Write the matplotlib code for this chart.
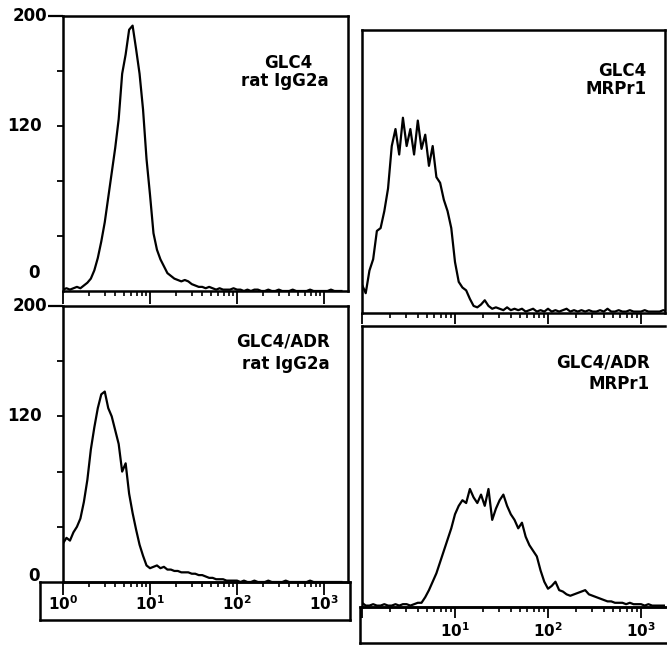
import matplotlib
matplotlib.use('Agg')
import matplotlib.pyplot as plt
import numpy as np
from matplotlib import ticker

W, H = 667, 646

# histogram channels: 25 channels per decade, starting at 10^0
STEP = 0.04

glc4_igg = [1, 2, 1, 2, 3, 2, 4, 6, 9, 15, 24, 36, 50, 68, 86, 104, 125, 158, 172, 190,
            193, 176, 158, 132, 96, 70, 42, 30, 23, 18, 13, 11, 9, 8, 7, 8, 7, 5, 4, 3,
            3, 2, 3, 2, 1, 2, 1, 1, 1, 2, 1, 1, 0, 1, 0, 1, 1, 0, 0, 1, 0, 0, 1, 0, 0,
            0, 1, 0, 0, 0, 0, 1, 0, 0, 0, 0, 0, 1, 0, 0, 0]
adr_igg = [28, 32, 30, 36, 40, 46, 58, 74, 96, 112, 126, 136, 138, 126, 120, 110, 100, 80,
           86, 64, 50, 38, 27, 19, 12, 10, 11, 12, 10, 11, 9, 9, 8, 8, 7, 7, 7, 6, 6, 5,
           5, 4, 3, 3, 2, 2, 2, 1, 1, 1, 1, 0, 1, 0, 0, 1, 0, 0, 0, 1, 0, 0, 0, 0, 1, 0,
           0, 0, 0, 0, 0, 1, 0, 0, 0, 0, 0, 0, 0, 0, 0]
glc4_mrp = [20, 14, 30, 38, 58, 60, 72, 88, 118, 130, 112, 138, 118, 130, 112, 136, 116,
            126, 104, 118, 96, 92, 80, 72, 60, 36, 22, 18, 16, 10, 5, 4, 6, 9, 5, 3, 4, 3,
            2, 4, 2, 3, 2, 3, 1, 2, 3, 1, 2, 1, 3, 1, 2, 1, 2, 3, 1, 2, 1, 2, 1, 2, 1, 1,
            2, 1, 3, 1, 1, 2, 1, 1, 2, 1, 1, 1, 2, 1, 1, 1, 1, 2, 1]
adr_mrp = [3, 1, 1, 2, 1, 1, 2, 1, 1, 2, 1, 2, 2, 1, 2, 3, 3, 7, 12, 18, 24, 32, 40, 48,
           56, 66, 72, 76, 74, 84, 78, 74, 80, 72, 84, 62, 70, 76, 80, 72, 66, 62, 56, 60,
           50, 44, 40, 36, 26, 18, 13, 15, 18, 12, 11, 9, 8, 9, 10, 11, 12, 9, 8, 7, 6, 5,
           4, 4, 3, 3, 3, 2, 3, 2, 2, 2, 1, 2, 1, 1, 1, 1, 1]

decades = [1, 10, 100, 1000]
decade_labels = ['$\\mathbf{10^{0}}$', '$\\mathbf{10^{1}}$', '$\\mathbf{10^{2}}$', '$\\mathbf{10^{3}}$']
right_labels = ['$\\mathbf{10^{1}}$', '$\\mathbf{10^{2}}$', '$\\mathbf{10^{3}}$']

LW = 1.8
FS = 12


def box(x0, y0, x1, y1):
    return [x0 / W, 1 - y1 / H, (x1 - x0) / W, (y1 - y0) / H]


def channels(counts):
    return 10 ** (np.arange(len(counts)) * STEP)


def hist_axes(fig, rect, xmax, counts, major_len, show_right=True):
    ax = fig.add_axes(rect)
    ax.plot(channels(counts), counts, color='black', lw=1.6)
    ax.set_xscale('log')
    ax.set_xlim(1, xmax)
    ax.set_ylim(0, 200)
    ax.xaxis.set_major_locator(ticker.FixedLocator(decades))
    ax.xaxis.set_minor_locator(ticker.LogLocator(base=10, subs=np.arange(2, 10)))
    ax.xaxis.set_major_formatter(ticker.NullFormatter())
    ax.xaxis.set_minor_formatter(ticker.NullFormatter())
    ax.tick_params(axis='x', which='major', direction='out', length=major_len, width=1.3)
    ax.tick_params(axis='x', which='minor', direction='out', length=3.5, width=1.2)
    for s in ax.spines.values():
        s.set_linewidth(LW)
    ax.spines['right'].set_visible(show_right)
    return ax


def left_yaxis(ax, zero_y):
    ax.yaxis.set_major_locator(ticker.FixedLocator([200]))
    ax.yaxis.set_minor_locator(ticker.FixedLocator([40, 80, 120, 160]))
    ax.yaxis.set_major_formatter(ticker.NullFormatter())
    ax.tick_params(axis='y', which='major', direction='out', length=11, width=1.6)
    ax.tick_params(axis='y', which='minor', direction='out', length=4, width=1.3)
    tr = ax.get_yaxis_transform()
    kw = dict(transform=tr, ha='right', va='center', fontsize=FS, fontweight='bold')
    ax.text(-0.055, 200, '200', **kw)
    ax.text(-0.075, 120, '120', **kw)
    ax.text(-0.08, zero_y, '0', **kw)


fig = plt.figure(figsize=(W / 100, H / 100), dpi=100)

left_max = 10 ** ((348 - 63) / 87)
right_max = 10 ** ((665 - 362) / 93)

ax_tl = hist_axes(fig, box(63, 16, 348, 291), left_max, glc4_igg, 9)
left_yaxis(ax_tl, 13)
ax_tl.text(0.79, 0.83, 'GLC4', transform=ax_tl.transAxes, ha='center', va='center',
           fontsize=FS, fontweight='bold')
ax_tl.text(0.78, 0.765, 'rat IgG2a', transform=ax_tl.transAxes, ha='center', va='center',
           fontsize=FS, fontweight='bold')

ax_bl = hist_axes(fig, box(63, 306, 348, 582), left_max, adr_igg, 9)
left_yaxis(ax_bl, 4)
ax_bl.text(0.935, 0.87, 'GLC4/ADR', transform=ax_bl.transAxes, ha='right', va='center',
           fontsize=FS, fontweight='bold')
ax_bl.text(0.935, 0.79, 'rat IgG2a', transform=ax_bl.transAxes, ha='right', va='center',
           fontsize=FS, fontweight='bold')
for v, t in zip(decades, decade_labels):
    ax_bl.text(v, -0.077, t, transform=ax_bl.get_xaxis_transform(), ha='center',
               va='center', fontsize=11)

strip_l = fig.add_axes(box(40, 582, 350, 620), facecolor='none')
strip_l.set_xticks([])
strip_l.set_yticks([])
for s in strip_l.spines.values():
    s.set_linewidth(LW)

ax_tr = hist_axes(fig, box(362, 30, 665, 313), right_max, glc4_mrp, 8)
ax_tr.set_yticks([])
ax_tr.text(0.94, 0.855, 'GLC4', transform=ax_tr.transAxes, ha='right', va='center',
           fontsize=FS, fontweight='bold')
ax_tr.text(0.94, 0.79, 'MRPr1', transform=ax_tr.transAxes, ha='right', va='center',
           fontsize=FS, fontweight='bold')

ax_br = hist_axes(fig, box(362, 326, 665, 607), right_max, adr_mrp, 8, show_right=False)
ax_br.set_yticks([])
ax_br.text(0.95, 0.87, 'GLC4/ADR', transform=ax_br.transAxes, ha='right', va='center',
           fontsize=FS, fontweight='bold')
ax_br.text(0.95, 0.795, 'MRPr1', transform=ax_br.transAxes, ha='right', va='center',
           fontsize=FS, fontweight='bold')
for v, t in zip(decades[1:], right_labels):
    ax_br.text(v, -0.085, t, transform=ax_br.get_xaxis_transform(), ha='center',
               va='center', fontsize=11)

strip_r = fig.add_axes(box(360, 607, 668, 643), facecolor='none')
strip_r.set_xticks([])
strip_r.set_yticks([])
for s in strip_r.spines.values():
    s.set_linewidth(LW)
strip_r.spines['right'].set_visible(False)

fig.savefig('out.png', dpi=100)
